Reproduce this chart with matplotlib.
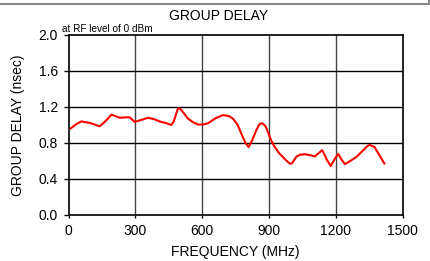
import matplotlib
matplotlib.use("Agg")
import matplotlib.pyplot as plt
from matplotlib.lines import Line2D

plt.rcParams['font.family'] = ['Liberation Sans', 'DejaVu Sans']

freq = [9, 35, 58, 100, 140, 165, 193, 215, 230, 255, 275, 297, 325, 357, 385, 409,
        440, 461, 472, 491, 500, 515, 537, 560, 582, 605, 627, 660, 694, 720, 739,
        760, 776, 795, 809, 825, 843, 858, 870, 884, 896, 910, 926, 945, 970, 994,
        1004, 1024, 1040, 1061, 1085, 1106, 1125, 1139, 1150, 1161, 1178, 1195,
        1211, 1225, 1241, 1265, 1293, 1320, 1340, 1352, 1374, 1395, 1419]
delay = [0.96, 1.01, 1.04, 1.02, 0.985, 1.04, 1.115, 1.095, 1.08, 1.085, 1.085, 1.035,
         1.055, 1.08, 1.065, 1.04, 1.02, 1.0, 1.035, 1.18, 1.185, 1.14, 1.07, 1.03,
         1.005, 1.005, 1.02, 1.075, 1.11, 1.1, 1.07, 1.0, 0.905, 0.8, 0.755, 0.83,
         0.94, 1.01, 1.02, 0.99, 0.92, 0.83, 0.755, 0.69, 0.625, 0.57, 0.575, 0.65,
         0.67, 0.675, 0.665, 0.65, 0.69, 0.72, 0.67, 0.61, 0.545, 0.62, 0.68, 0.62,
         0.565, 0.6, 0.645, 0.71, 0.76, 0.78, 0.755, 0.67, 0.57]
xticks = [0, 300, 600, 900, 1200, 1500]
yticks = [0.0, 0.4, 0.8, 1.2, 1.6, 2.0]

fig = plt.figure(figsize=(4.30, 2.61), dpi=100)
ax = fig.add_axes([68.5/430, 1-215/261, 334/430, 180/261])

ax.plot(freq, delay, color='#ff0000', lw=1.5, solid_joinstyle='round',
        solid_capstyle='round')
ax.set_xlim(0, 1500)
ax.set_ylim(0, 2.0)
ax.set_xticks(xticks)
ax.set_yticks(yticks)
ax.set_xticklabels([str(t) for t in xticks], fontsize=10)
ax.set_yticklabels([f"{t:.1f}" for t in yticks], fontsize=10)
for x in xticks[1:-1]:
    ax.axvline(x, color='#444444', lw=1.0, zorder=0)
for y in yticks[1:-1]:
    ax.axhline(y, color='#000000', lw=1.0, zorder=0)
for s in ax.spines.values():
    s.set_color('black')
    s.set_linewidth(1.2)
ax.tick_params(axis='x', direction='out', length=2.5, width=1, pad=4)
ax.tick_params(axis='y', direction='out', length=3.6, width=1, pad=4)
ax.set_xlabel('FREQUENCY (MHz)', fontsize=10, labelpad=5)
ax.set_ylabel('GROUP DELAY (nsec)', fontsize=10, labelpad=10)
fig.text(219/430, 1-16/261, 'GROUP DELAY', ha='center', va='center', fontsize=10)
ax.text(-0.018, 1.008, 'at RF level of 0 dBm', transform=ax.transAxes, fontsize=7.2,
        ha='left', va='bottom')

fig.add_artist(Line2D([0, 428.5/430], [1-3.5/261, 1-3.5/261], color='#888888', lw=1.5,
                      transform=fig.transFigure))
fig.add_artist(Line2D([428.5/430, 428.5/430], [1, 1-3.5/261], color='#888888', lw=1.5,
                      transform=fig.transFigure))

fig.savefig('out.png', dpi=100)
